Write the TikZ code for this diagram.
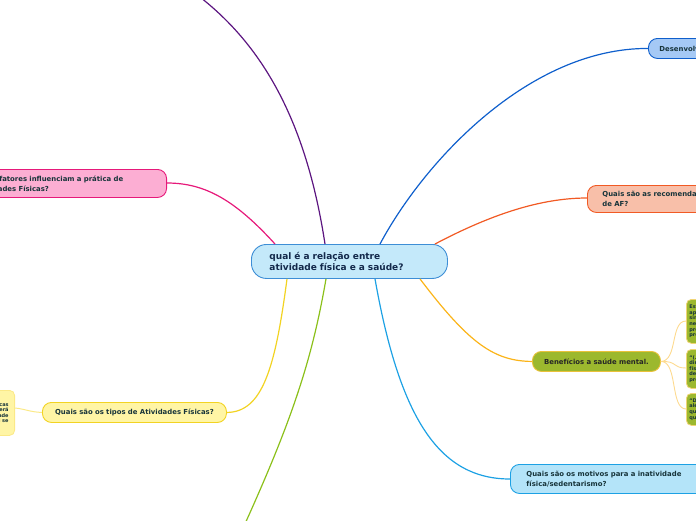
\documentclass[tikz,border=0pt]{standalone}
\usepackage{fontspec}
\setmainfont{DejaVu Sans}
\definecolor{cfill}{HTML}{C4E9FA}
\definecolor{cdraw}{HTML}{3D8ED6}
\definecolor{ctext}{HTML}{13294B}
\definecolor{ntext}{HTML}{17343A}
\definecolor{purp}{HTML}{5C1580}
\definecolor{blu}{HTML}{0F5FCC}
\definecolor{bfill}{HTML}{A5C9F5}
\definecolor{ored}{HTML}{F15A24}
\definecolor{ofill}{HTML}{F8BFA9}
\definecolor{gold}{HTML}{FBB419}
\definecolor{olive}{HTML}{9CB82E}
\definecolor{oborder}{HTML}{E9C23A}
\definecolor{subline}{HTML}{FDDA8F}
\definecolor{lblue}{HTML}{1DA1E4}
\definecolor{lbfill}{HTML}{B4E4F9}
\definecolor{mag}{HTML}{E6197A}
\definecolor{pfill}{HTML}{FCAED3}
\definecolor{yel}{HTML}{F2D322}
\definecolor{yfill}{HTML}{FFF5A5}
\definecolor{yborder}{HTML}{FBE987}
\definecolor{grn}{HTML}{8BC01A}
\tikzset{
  box/.style={draw, line width=0.9pt, rounded corners=9pt, anchor=north west, inner ysep=0pt, font=\fontsize{6.9}{10}\selectfont\bfseries, text=ntext},
  smallbox/.style={draw, line width=0.8pt, rounded corners=5pt, anchor=north west, inner ysep=0pt, font=\fontsize{5}{5.6}\selectfont\bfseries, text=ntext},
  conn/.style={line width=1.2pt},
}
\begin{document}
\begin{tikzpicture}[x=1pt,y=-1pt]
\useasboundingbox (0,0) rectangle (696,520);
\clip (0,0) rectangle (696,520);
% central
\node[draw=cdraw, fill=cfill, line width=0.9pt, rounded corners=15pt, anchor=north west,
  minimum width=196, minimum height=34, inner xsep=18pt, text width=160pt, align=left,
  font=\fontsize{9}{11}\selectfont\bfseries, text=ctext] (c) at (251,244)
  {qual é a relação entre\\atividade física e a saúde?};
% right nodes
\node[box, draw=blu, fill=bfill, minimum width=120, minimum height=20, inner xsep=11pt, text width=98pt, align=left] (des) at (648,38) {Desenvolvimento};
\node[box, draw=ored, fill=ofill, minimum width=180, minimum height=27, inner xsep=15pt, text width=150pt, align=left] (rec) at (587,185) {Quais são as recomendações\\de AF?};
\node[box, draw=oborder, fill=olive, text=black!85, minimum width=128, minimum height=20, inner xsep=2pt, text width=124pt, align=center] (ben) at (532,351) {Benefícios a saúde mental.};
\node[box, draw=lblue, fill=lbfill, minimum width=195, minimum height=29, inner xsep=16pt, text width=163pt, align=left] (mot) at (510,464) {Quais são os motivos para a inatividade\\física/sedentarismo?};
% sub nodes
\node[smallbox, draw=oborder!70, fill=olive, minimum width=70, minimum height=44, inner xsep=3pt, text width=64pt, align=left] (s1) at (686,299) {Estudos\\apontam\\sintomas\\negativos\\previnem\\problemas};
\node[smallbox, draw=oborder!70, fill=olive, minimum width=70, minimum height=39, inner xsep=3pt, text width=64pt, align=left] (s2) at (686,349) {“(...)\\diminui\\físicos\\de\\problemas};
\node[smallbox, draw=oborder!70, fill=olive, minimum width=70, minimum height=32, inner xsep=3pt, text width=64pt, align=left] (s3) at (686,393) {“De\\além\\que\\que};
% left nodes
\node[box, draw=mag, fill=pfill, anchor=north east, minimum width=210, minimum height=28, inner xsep=0pt, text width=173pt, align=left] (fat) at (167,169) {Quais fatores influenciam a prática de\\Atividades Físicas?};
\node[box, draw=yel, fill=yfill, minimum width=184, minimum height=20, inner xsep=2pt, text width=180pt, align=center] (tip) at (42,402) {Quais são os tipos de Atividades Físicas?};
\node[smallbox, draw=yborder, fill=yfill, anchor=north east, minimum width=80, minimum height=45, inner xsep=6pt, text width=68pt, align=right] (tl) at (15,390) {atividades físicas\\aeróbicas, será\\de intensidade\\moderada, o nível se};
% connectors
\draw[conn, purp] ([xshift=74pt]c.north west) .. controls (306,120) and (262,44) .. (196,-6);
\draw[conn, grn] ([xshift=75pt]c.south west) .. controls (312,360) and (292,420) .. (244,526);
\draw[conn, blu] ([xshift=129pt]c.north west) .. controls (425,160) and (530,48) .. (des.west);
\draw[conn, ored] ([xshift=184pt]c.north west) .. controls (490,215) and (540,198) .. ([yshift=-13pt]rec.north west);
\draw[conn, gold] ([xshift=169pt]c.south west) .. controls (470,345) and (495,361) .. (ben.west);
\draw[conn, lblue] ([xshift=124pt]c.south west) .. controls (400,420) and (440,479) .. ([yshift=-15pt]mot.north west);
\draw[conn, mag] ([xshift=24pt]c.north west) .. controls (235,200) and (205,183) .. ([yshift=-14pt]fat.north east);
\draw[conn, yel] ([xshift=36pt]c.south west) .. controls (275,370) and (262,412) .. (tip.east);
\draw[line width=0.9pt, subline] (ben.east) .. controls (678,361) and (670,321) .. ([yshift=-22pt]s1.north west);
\draw[line width=0.9pt, subline] (ben.east) .. controls (678,361) and (672,368) .. ([yshift=-19pt]s2.north west);
\draw[line width=0.9pt, subline] (ben.east) .. controls (678,361) and (670,409) .. ([yshift=-16pt]s3.north west);
\draw[line width=1pt, yborder] (tip.west) .. controls (30,412) and (25,409) .. ([yshift=-18pt]tl.north east);
\end{tikzpicture}
\end{document}
